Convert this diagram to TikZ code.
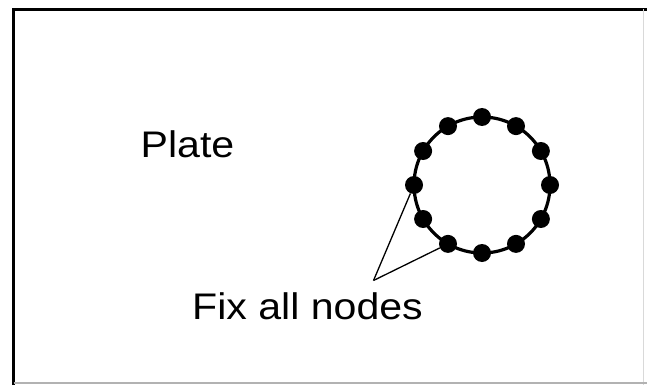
\documentclass[tikz,border=0pt]{standalone}
\usepackage{fontspec}
\setmainfont{Liberation Sans}
\usetikzlibrary{calc}
\begin{document}
\begin{tikzpicture}[x=1pt,y=-1pt,
  dot/.style={circle,fill=black,inner sep=0pt,minimum width=17pt,minimum height=18pt},
  label/.style={inner sep=0pt,anchor=base,font=\fontsize{37}{40}\selectfont,xscale=1.11},
  leader/.style={line width=1.3pt,black},
  ring/.style={line width=3.2pt,black}]
\useasboundingbox (0,0) rectangle (647,385);
\fill[white] (0,0) rectangle (647,385);
% plate border
\draw[line width=3.5pt,black] (13.5,385) -- (13.5,9.5) -- (647,9.5);
\draw[line width=1pt,black!15] (643,9.5) -- (643,385);
\draw[line width=1.2pt,black!30] (13.5,383) -- (647,383);
% hole with nodes
\coordinate (c) at (482,185);
\draw[ring] (c) circle[radius=68];
\foreach \i in {0,...,11}{
  \node[dot] (n\i) at ($(c)+(\i*30:68)$) {};
}
% labels
\node[label] (plate) at (187.5,157) {Plate};
\node[label] (fix) at (307.5,319.5) {Fix all nodes};
\coordinate (apex) at (373.5,280.5);
\draw[leader] (apex) -- (n6);
\draw[leader] (apex) -- (n4);
\end{tikzpicture}
\end{document}
